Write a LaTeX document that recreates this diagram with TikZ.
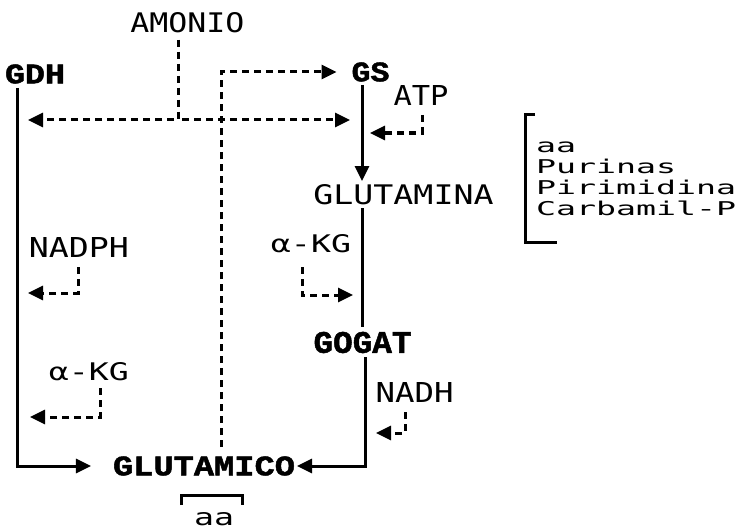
\documentclass[tikz,border=0pt]{standalone}
\usepackage{fontspec}
\usepackage{graphicx}
\usetikzlibrary{arrows.meta}
\newfontfamily\monoA{DejaVu Sans Mono}
\newfontfamily\monoB{Liberation Mono Bold}[FakeBold=1.5]
\newcommand\fitt[3]{\resizebox{#1pt}{#2pt}{#3}}
\newcommand\wide[2]{\scalebox{#1}[1]{\fontsize{19}{19}\selectfont\monoA #2}}
\tikzset{
  lab/.style={inner sep=0pt, outer sep=0pt},
  solidline/.style={line width=3pt, draw=black},
  dashline/.style={line width=3pt, draw=black, dash pattern=on 7pt off 5pt},
  tip/.style={-{Triangle[length=15pt,width=14pt]}},
}
\begin{document}
\begin{tikzpicture}[x=1pt,y=-1pt]
\useasboundingbox[fill=white] (0,0) rectangle (741,532);

% labels
\node[lab] (amonio) at (187.5,22.5) {\fitt{114}{20}{\monoA AMONIO}};
\node[lab] (gdh) at (35,74) {\fitt{60}{19}{\monoB GDH}};
\node[lab] (gs) at (370.5,72) {\fitt{38}{19}{\monoB GS}};
\node[lab] (atp) at (421,95) {\fitt{55}{20}{\monoA ATP}};
\node[lab] (glutamina) at (403.5,195) {\fitt{180}{20}{\monoA GLUTAMINA}};
\node[lab] (gogat) at (362.5,342.5) {\fitt{98}{21}{\monoB GOGAT}};
\node[lab] (glutamico) at (204,466) {\fitt{182}{19}{\monoB GLUTAMICO}};
\node[lab] (nadph) at (79,247.5) {\fitt{100}{20}{\monoA NADPH}};
\node[lab] (akgA) at (89,372) {\fitt{80}{18}{\monoA α-KG}};
\node[lab] (akgB) at (311,244) {\fitt{80}{18}{\monoA α-KG}};
\node[lab] (nadh) at (414.5,392) {\fitt{78}{20}{\monoA NADH}};
\node[lab] (aasmall) at (214,519) {\fitt{40}{13}{\monoA aa}};

% list on the right
\node[lab, anchor=base west] (l1) at (536,152) {\wide{1.75}{aa}};
\node[lab, anchor=base west] (l2) at (536,173) {\wide{1.75}{Purinas}};
\node[lab, anchor=base west] (l3) at (536,194) {\wide{1.75}{Pirimidina}};
\node[lab, anchor=base west] (l4) at (536,215) {\wide{1.75}{Carbamil-P}};

% coordinates on lines
\coordinate (gdhTop) at (17,88);
\coordinate (gsTop) at (362,85);
\coordinate (gsTip) at (362,181);
\coordinate (amSrc) at (178,40);
\coordinate (gdhAm) at (17,120);
\coordinate (gsAm) at (362,120);
\coordinate (atpSrc) at (422,115);
\coordinate (gsAtp) at (362,133);
\coordinate (nadphSrc) at (78,267);
\coordinate (gdhNadph) at (17,293);
\coordinate (akgASrc) at (100,388);
\coordinate (gdhAkg) at (17,417);
\coordinate (akgBSrc) at (302,267);
\coordinate (colAkg) at (362,295);
\coordinate (nadhSrc) at (405,412);
\coordinate (colNadh) at (365,433);
\coordinate (gogatBot) at (365,357);
\coordinate (gluTop) at (221,447);

% solid pathway
\draw[solidline, tip, shorten >=22pt] (gdhTop) |- (glutamico.west);
\draw[solidline, tip] (gsTop) -- (gsTip);
\draw[solidline, shorten <=3pt, shorten >=5pt] (glutamina.south -| gsTop) -- (gogat.north -| gsTop);
\draw[solidline, tip, shorten >=2pt] (gogatBot) |- (glutamico.east);

% dashed ammonium supply
\draw[dashline, tip, shorten >=11pt] (amSrc) |- (gdhAm);
\draw[dashline, tip, shorten >=12pt] (amSrc) |- (gsAm);
\draw[dashline, tip, shorten >=15pt] (gluTop) |- (gs.west);

% cofactors
\draw[dashline, tip, shorten >=8pt] (atpSrc) |- (gsAtp);
\draw[dashline, tip, shorten >=11pt] (nadphSrc) |- (gdhNadph);
\draw[dashline, tip, shorten >=13pt] (akgASrc) |- (gdhAkg);
\draw[dashline, tip, shorten >=9pt] (akgBSrc) |- (colAkg);
\draw[dashline, tip, shorten >=11pt] (nadhSrc) |- (colNadh);

% brackets
\draw[solidline] (535,115) -- (525,115) -- (525,242) -- (557,242);
\draw[solidline] (181,505) -- (181,495) -- (242,495) -- (242,505);
\end{tikzpicture}
\end{document}
